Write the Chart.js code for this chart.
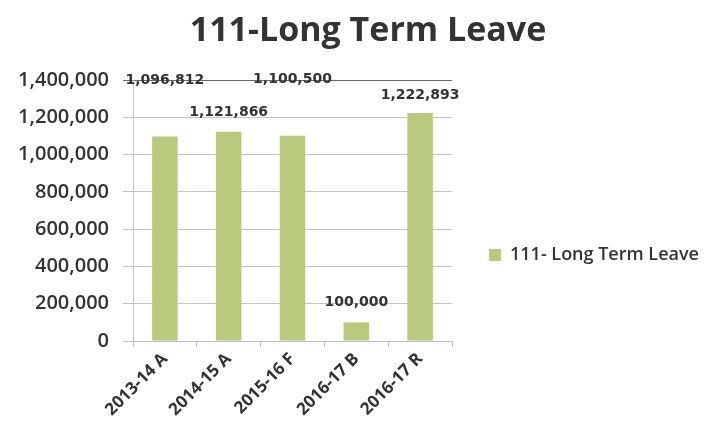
<!DOCTYPE html>
<html>
<head>
<meta charset="utf-8">
<title>111-Long Term Leave</title>
<script src="https://cdn.jsdelivr.net/npm/chart.js@4/dist/chart.umd.min.js"></script>
<style>
  html, body { margin: 0; padding: 0; background: #fff; }
  #wrap { width: 723px; height: 430px; position: relative; }
</style>
</head>
<body>
<div id="wrap"><canvas id="leaveChart" width="723" height="430"></canvas></div>
<script>
// -----------------------------
// Data
// -----------------------------
const periods = ["2013-14 A", "2014-15 A", "2015-16 F", "2016-17 B", "2016-17 R"];
const leaveValues = [1096812, 1121866, 1100500, 100000, 1222893];
const yTicks = [0, 200000, 400000, 600000, 800000, 1000000, 1200000, 1400000];
const seriesName = "111- Long Term Leave";
const chartTitle = "111-Long Term Leave";

const barColor = "#b9c97e";
const textColor = "#333333";

// how far above each bar top its value label sits (px)
const labelLift = [56, 19, 56, 20, 18];

const fmt = (v) => v.toLocaleString("en-US");

// title centred over the whole figure (plot + legend)
const figureTitle = {
  id: "figureTitle",
  afterDraw(chart) {
    const { ctx } = chart;
    ctx.save();
    ctx.font = "bold 34px 'Open Sans'";
    ctx.fillStyle = textColor;
    ctx.textAlign = "center";
    ctx.textBaseline = "middle";
    ctx.fillText(chartTitle, 368, 31);
    ctx.restore();
  }
};

// value labels over the bars
const valueLabels = {
  id: "valueLabels",
  afterDatasetsDraw(chart) {
    const { ctx } = chart;
    const meta = chart.getDatasetMeta(0);
    ctx.save();
    ctx.font = "bold 14px 'DejaVu Sans'";
    ctx.fillStyle = textColor;
    ctx.textAlign = "center";
    ctx.textBaseline = "middle";
    meta.data.forEach((bar, i) => {
      ctx.fillText(fmt(leaveValues[i]), bar.x, bar.y - labelLift[i]);
    });
    ctx.restore();
  }
};

// legend drawn to the right of the plot
const sideLegend = {
  id: "sideLegend",
  afterDraw(chart) {
    const { ctx } = chart;
    const ds = chart.data.datasets[0];
    const cy = 255;
    ctx.save();
    ctx.fillStyle = ds.backgroundColor;
    ctx.fillRect(489, cy - 6, 12, 12);
    ctx.font = "600 18px 'Open Sans'";
    ctx.fillStyle = textColor;
    ctx.textAlign = "left";
    ctx.textBaseline = "middle";
    ctx.fillText(ds.label, 510, cy);
    ctx.restore();
  }
};

const ctx = document.getElementById("leaveChart").getContext("2d");

new Chart(ctx, {
  type: "bar",
  data: {
    labels: periods,
    datasets: [{
      label: seriesName,
      data: leaveValues,
      backgroundColor: barColor,
      borderWidth: 0,
      categoryPercentage: 1.0,
      barPercentage: 0.4
    }]
  },
  options: {
    responsive: false,
    animation: false,
    layout: { padding: { left: 0, right: 271, top: 80, bottom: 2 } },
    plugins: {
      legend: { display: false },
      tooltip: { enabled: false },
      title: { display: false }
    },
    scales: {
      x: {
        grid: {
          display: true,
          drawOnChartArea: false,
          drawTicks: true,
          tickLength: 6,
          offset: true,
          color: "#bdbdbd"
        },
        border: { color: "#bdbdbd" },
        ticks: {
          color: textColor,
          font: { family: "'Open Sans'", size: 17, weight: "bold" },
          minRotation: 45,
          maxRotation: 45,
          padding: 2
        },
        afterFit(scale) { scale.height = 87; }
      },
      y: {
        min: 0,
        max: 1400000,
        afterBuildTicks(scale) {
          scale.ticks = yTicks.map((v) => ({ value: v }));
        },
        grid: {
          color: (c) => (c.tick && c.tick.value === 1400000 ? "#6a6a6a" : "#c4c4c4"),
          tickLength: 10
        },
        border: { color: "#c4c4c4" },
        ticks: {
          color: textColor,
          font: { family: "'Open Sans'", size: 20, weight: "600" },
          padding: 14,
          callback: (v) => fmt(v)
        },
        afterFit(scale) { scale.width = 133; }
      }
    }
  },
  plugins: [valueLabels, sideLegend, figureTitle]
});
</script>
</body>
</html>
